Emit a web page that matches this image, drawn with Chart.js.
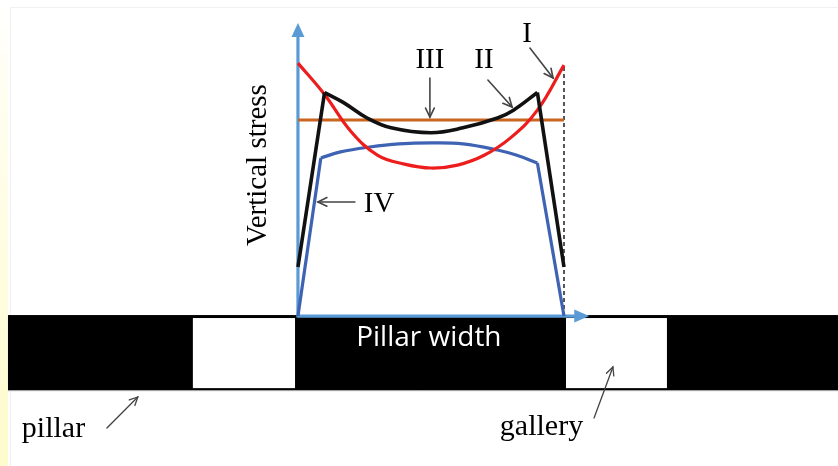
<!DOCTYPE html>
<html>
<head>
<meta charset="utf-8">
<script src="https://cdn.jsdelivr.net/npm/chart.js@4/dist/chart.umd.min.js"></script>
<style>
  html, body { margin: 0; padding: 0; background: #ffffff; }
  #wrap { width: 838px; height: 466px; }
</style>
</head>
<body>
<div id="wrap"><canvas id="c" width="838" height="466"></canvas></div>
<script>
// Positions across the pillar (0 = left face, 100 = right face) and vertical stress levels.
const posI   = [0, 10, 20, 30, 40, 50, 60, 70, 80, 90, 100];
const stressI   = [129, 113, 94, 82, 77.5, 75.5, 77, 82, 91, 105, 128];

const posII  = [0, 10, 17, 26, 35, 50, 62, 75, 81, 90, 100];
const stressII  = [25, 114, 109, 101, 96, 93.5, 96, 101, 105, 114, 25];

const posIII = [0, 100];
const stressIII = [100, 100];

const posIV  = [0, 8.6, 16, 27, 38, 50, 62, 75, 82, 90, 100];
const stressIV  = [0, 80.6, 83.7, 86.2, 87.8, 88.3, 87.8, 84.7, 82.1, 78.1, 0];

// Cross-section below the axis: pillars are black, galleries are the gaps between them.
const galleries = [[-39.5, -1.1], [100.75, 138.7]];
const bandSpan  = [-109, 203];
const bandDepth = [0.5, -37.8];

// Curve labels: text, anchor (data units), arrow start, arrow end.
const curveLabels = [
  { text: 'I',   at: [86.1, 139.8], from: [87.2, 136.7], to: [95.9, 121.4] },
  { text: 'II',  at: [69.9, 126.5], from: [71.4, 120.4], to: [80.5, 106.6] },
  { text: 'III', at: [49.6, 126.5], from: [49.6, 121.4], to: [49.6, 101.5] },
  { text: 'IV',  at: [30.5, 53.1],  from: [21.4, 58.2],  to: [7.5, 58.2] }
];
const groundLabels = [
  { text: 'pillar',  at: [-103.8, -61.7], from: [-71.8, -57.1], to: [-60.2, -41.3] },
  { text: 'gallery', at: [75.9, -60.7],   from: [111.3, -52.0], to: [118.4, -26.0] }
];

const pts = (xs, ys) => xs.map((x, i) => ({ x: x, y: ys[i] }));
const sub = (xs, ys, a, b) => pts(xs.slice(a, b), ys.slice(a, b));

const RED = '#ee1d1d', BLACK = '#111111', ORANGE = '#c9651f', BLUE = '#3e63b3';
const AXIS = '#5b9bd5';

function line(data, color, order, smooth, extra) {
  return Object.assign({
    data: data, showLine: true, borderColor: color, borderWidth: 3.2,
    pointRadius: 0, pointHoverRadius: 0, fill: false, order: order,
    tension: smooth ? 0.4 : 0,
    borderCapStyle: 'butt', borderJoinStyle: 'miter'
  }, extra || {});
}

const nII = posII.length, nIV = posIV.length;
const datasets = [
  // pillar edge marker
  line([{ x: 100, y: 0 }, { x: 100, y: stressI[stressI.length - 1] }], '#555555', 9, false,
       { borderWidth: 2, borderDash: [4, 3] }),
  line(pts(posIII, stressIII), ORANGE, 8, false),
  line(sub(posIV, stressIV, 0, 2), BLUE, 7, false),
  line(sub(posIV, stressIV, 1, nIV - 1), BLUE, 7, true),
  line(sub(posIV, stressIV, nIV - 2, nIV), BLUE, 7, false),
  line(pts(posI, stressI), RED, 6, true),
  line(sub(posII, stressII, 0, 2), BLACK, 5, false, { borderWidth: 3.6 }),
  line(sub(posII, stressII, 1, nII - 1), BLACK, 5, true, { borderWidth: 3.6 }),
  line(sub(posII, stressII, nII - 2, nII), BLACK, 5, false, { borderWidth: 3.6 })
];

function arrow(ctx, x1, y1, x2, y2, color, w, head) {
  const a = Math.atan2(y2 - y1, x2 - x1);
  ctx.save();
  ctx.strokeStyle = color; ctx.lineWidth = w; ctx.lineCap = 'round';
  ctx.beginPath(); ctx.moveTo(x1, y1); ctx.lineTo(x2, y2); ctx.stroke();
  ctx.beginPath();
  ctx.moveTo(x2 - head * Math.cos(a - 0.45), y2 - head * Math.sin(a - 0.45));
  ctx.lineTo(x2, y2);
  ctx.lineTo(x2 - head * Math.cos(a + 0.45), y2 - head * Math.sin(a + 0.45));
  ctx.stroke();
  ctx.restore();
}

const scenePlugin = {
  id: 'scene',
  beforeDraw(chart) {
    const ctx = chart.ctx, W = chart.width, H = chart.height;
    const X = v => chart.scales.x.getPixelForValue(v);
    const Y = v => chart.scales.y.getPixelForValue(v);
    ctx.save();
    ctx.fillStyle = '#ffffff'; ctx.fillRect(0, 0, W, H);
    // pale strip along the left margin
    const g = ctx.createLinearGradient(0, 0, 0, H);
    g.addColorStop(0, '#ffffff'); g.addColorStop(0.2, '#fffef0'); g.addColorStop(1, '#fefbcc');
    ctx.fillStyle = g; ctx.fillRect(0, 0, 8, H);
    ctx.strokeStyle = '#f1f1f1'; ctx.lineWidth = 1;
    ctx.beginPath(); ctx.moveTo(10.5, H); ctx.lineTo(10.5, 7.5); ctx.lineTo(W, 7.5); ctx.stroke();

    // ground band with gallery openings
    const bx0 = X(bandSpan[0]), bx1 = X(bandSpan[1]);
    const by0 = Y(bandDepth[0]), by1 = Y(bandDepth[1]);
    ctx.fillStyle = '#000000';
    ctx.fillRect(bx0, by0, bx1 - bx0, by1 - by0);
    ctx.fillStyle = '#ffffff';
    galleries.forEach(([a, b]) => {
      ctx.fillRect(X(a), by0 + 3, X(b) - X(a), by1 - by0 - 5);
    });
    ctx.strokeStyle = '#9a9a9a'; ctx.lineWidth = 1;
    ctx.beginPath(); ctx.moveTo(bx0, by1 + 0.5); ctx.lineTo(bx1, by1 + 0.5); ctx.stroke();

    ctx.fillStyle = '#ffffff';
    ctx.font = '28px "Open Sans", sans-serif';
    ctx.textAlign = 'center'; ctx.textBaseline = 'alphabetic';
    ctx.fillText('Pillar width', X(49.2), Y(-15.3));
    ctx.restore();
  },
  beforeDatasetsDraw(chart) {
    const ctx = chart.ctx;
    const X = v => chart.scales.x.getPixelForValue(v);
    const Y = v => chart.scales.y.getPixelForValue(v);
    const ox = X(0), oy = Y(0);
    const xEnd = X(109.5), yEnd = Y(149.5);
    ctx.save();
    ctx.strokeStyle = AXIS; ctx.fillStyle = AXIS; ctx.lineWidth = 3.2;
    ctx.beginPath(); ctx.moveTo(ox, oy); ctx.lineTo(xEnd - 12, oy); ctx.stroke();
    ctx.beginPath(); ctx.moveTo(ox, oy + 1.5); ctx.lineTo(ox, yEnd + 12); ctx.stroke();
    ctx.beginPath(); ctx.moveTo(xEnd, oy); ctx.lineTo(xEnd - 15, oy - 6.5); ctx.lineTo(xEnd - 15, oy + 6.5); ctx.closePath(); ctx.fill();
    ctx.beginPath(); ctx.moveTo(ox, yEnd); ctx.lineTo(ox - 6.5, yEnd + 14); ctx.lineTo(ox + 6.5, yEnd + 14); ctx.closePath(); ctx.fill();

    // axis title
    ctx.fillStyle = '#000000';
    ctx.font = '29px "Liberation Serif", "Times New Roman", serif';
    ctx.translate(X(-15.0), Y(77.0));
    ctx.rotate(-Math.PI / 2);
    ctx.textAlign = 'center'; ctx.textBaseline = 'middle';
    ctx.fillText('Vertical stress', 0, 0);
    ctx.restore();
  },
  afterDraw(chart) {
    const ctx = chart.ctx;
    const X = v => chart.scales.x.getPixelForValue(v);
    const Y = v => chart.scales.y.getPixelForValue(v);
    ctx.save();
    ctx.fillStyle = '#000000';
    ctx.font = '29px "Liberation Serif", "Times New Roman", serif';
    ctx.textAlign = 'center'; ctx.textBaseline = 'alphabetic';
    curveLabels.forEach(l => {
      ctx.fillText(l.text, X(l.at[0]), Y(l.at[1]));
      arrow(ctx, X(l.from[0]), Y(l.from[1]), X(l.to[0]), Y(l.to[1]), '#444444', 1.6, 10);
    });
    ctx.font = '30px "Liberation Serif", "Times New Roman", serif';
    ctx.textAlign = 'left';
    groundLabels.forEach(l => {
      ctx.fillText(l.text, X(l.at[0]), Y(l.at[1]));
      arrow(ctx, X(l.from[0]), Y(l.from[1]), X(l.to[0]), Y(l.to[1]), '#444444', 1.3, 9);
    });
    ctx.restore();
  }
};

new Chart(document.getElementById('c'), {
  type: 'scatter',
  data: { datasets: datasets },
  options: {
    responsive: false,
    devicePixelRatio: 1,
    animation: false,
    layout: { padding: 0 },
    plugins: { legend: { display: false }, tooltip: { enabled: false } },
    scales: {
      x: { type: 'linear', min: -112, max: 203, display: false },
      y: { type: 'linear', min: -76.5, max: 161.2, display: false }
    }
  },
  plugins: [scenePlugin]
});
</script>
</body>
</html>
